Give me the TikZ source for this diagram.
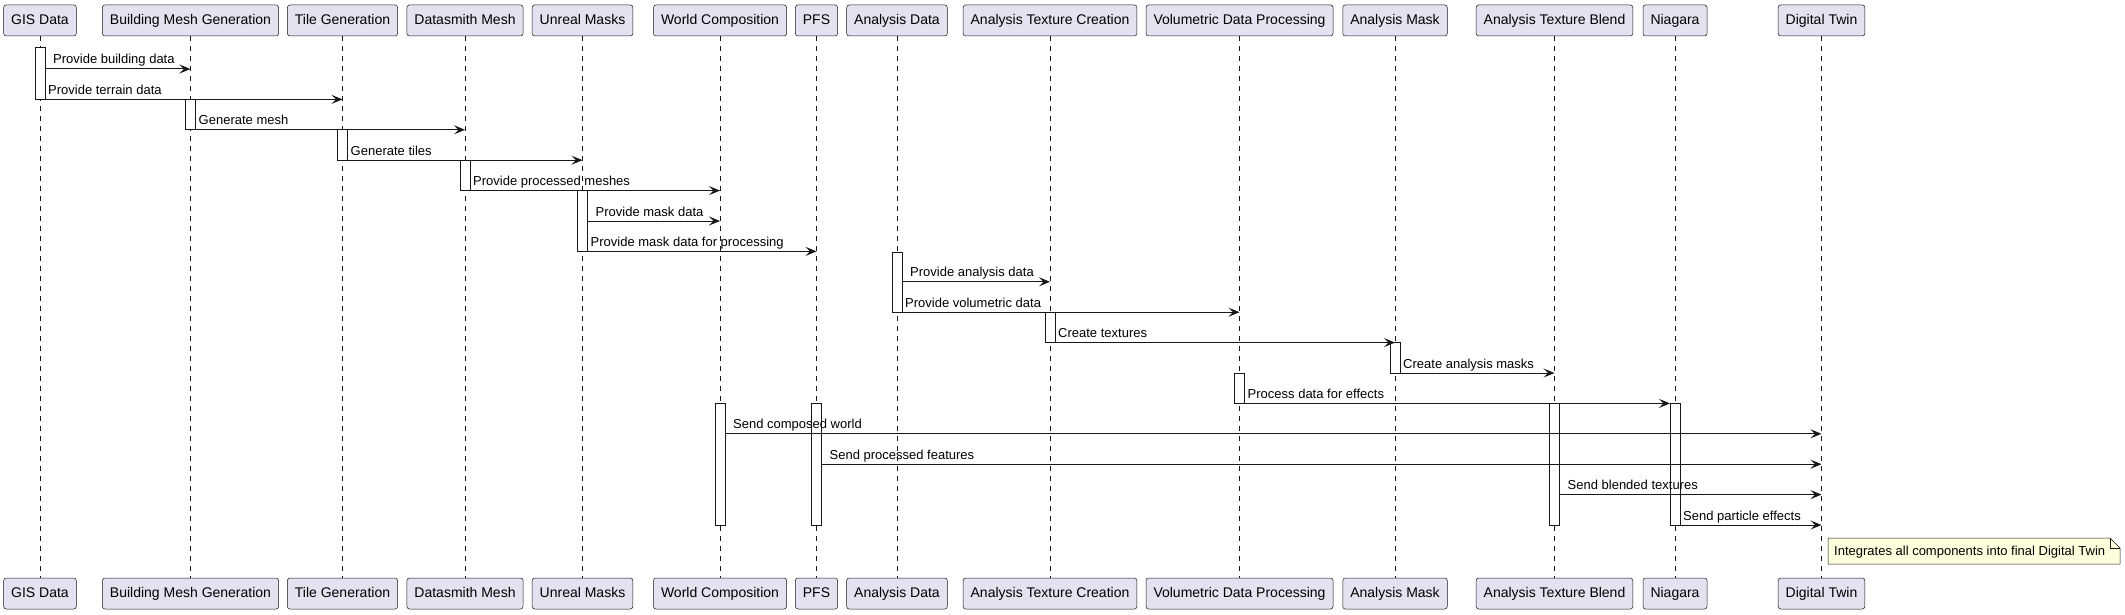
\documentclass[tikz,border=0pt]{standalone}
\usepackage{fontspec}
\setmainfont{Liberation Sans}
\usetikzlibrary{arrows.meta}
\definecolor{ln}{HTML}{181818}
\definecolor{pfill}{HTML}{E2E2F0}
\definecolor{nfill}{HTML}{FEFFDD}
\tikzset{
  part/.style={draw=ln, line width=0.5pt, fill=pfill, rounded corners=2.5pt,
    minimum height=31pt, inner xsep=7.5pt, inner ysep=0pt,
    text height=10pt, text depth=2pt, font=\fontsize{14}{16}\selectfont},
  life/.style={draw=ln, line width=0.5pt, dash pattern=on 5pt off 5pt},
  actbar/.style={draw=ln, fill=white, line width=1pt},
  msg/.style={draw=ln, line width=1pt, -{Stealth[length=11pt,width=9pt,inset=4.5pt]}},
  lbl/.style={anchor=base west, inner sep=0pt, font=\fontsize{13}{15}\selectfont},
  notebox/.style={draw=ln, line width=0.5pt, fill=nfill},
}
\begin{document}
\begin{tikzpicture}[x=1pt,y=-1pt]
\useasboundingbox (0,0) rectangle (2125,615);
% participants and lifelines
\foreach \n/\x/\t in {gis/40/GIS Data, bmg/190.5/Building Mesh Generation,
  tile/342.5/Tile Generation, ds/465/Datasmith Mesh, um/582.5/Unreal Masks,
  wc/720/World Composition, pfs/816.5/PFS, ad/897/Analysis Data,
  atc/1050/Analysis Texture Creation, vdp/1239.5/Volumetric Data Processing,
  am/1395/Analysis Mask, atb/1554.5/Analysis Texture Blend,
  nia/1675/Niagara, dt/1821.5/Digital Twin}{
  \node[part] (t-\n) at (\x,20.5) {\t};
  \node[part] (b-\n) at (\x,593.5) {\t};
  \draw[life] (t-\n.south) -- (b-\n.north);
}
% activation bars
\foreach \x/\a/\b in {40/48/99.4, 190.5/99.4/129.8, 342.5/129.8/160.2,
  465/160.2/190.6, 582.5/190.6/251.4, 897/252.3/312.2, 1050/312.2/342.6,
  1395/342.6/373, 1239.5/373.3/403.4, 720/403.4/525, 816.5/403.4/525,
  1554.5/403.4/525, 1675/403.4/525}{
  \draw[actbar] (\x-5,\a) rectangle (\x+5,\b);
}
% messages
\foreach \i/\s/\e/\y/\o/\t in {
  1/40/190.5/69/13/Provide building data,
  2/40/342.5/99.4/8/Provide terrain data,
  3/190.5/465/129.8/8/Generate mesh,
  4/342.5/582.5/160.2/8/Generate tiles,
  5/465/720/190.6/8/Provide processed meshes,
  6/582.5/720/221/13/Provide mask data,
  7/582.5/816.5/251.4/8/Provide mask data for processing,
  8/897/1050/281.8/13/Provide analysis data,
  9/897/1239.5/312.2/8/Provide volumetric data,
  10/1050/1395/342.6/8/Create textures,
  11/1395/1554.5/373/8/Create analysis masks,
  12/1239.5/1670/403.4/8/Process data for effects,
  13/720/1821.5/433.8/13/Send composed world,
  14/816.5/1821.5/464.2/13/Send processed features,
  15/1554.5/1821.5/494.6/13/Send blended textures,
  16/1675/1821.5/525/8/Send particle effects}{
  \coordinate (m\i-s) at (\s+5,\y);
  \coordinate (m\i-e) at (\e,\y);
  \draw[msg] (m\i-s) -- (m\i-e);
  \node[lbl] (l\i) at (\s+\o,\y-5) {\t};
}
% note
\draw[notebox] (1828,538) -- (2110,538) -- (2120,548) -- (2120,564) -- (1828,564) -- cycle;
\draw[draw=ln, line width=0.5pt] (2110,538) -- (2110,548) -- (2120,548);
\node[anchor=west, inner sep=0pt, text height=9.3pt, text depth=0pt,
  font=\fontsize{13}{15}\selectfont] (note) at (1834,551) {Integrates all components into final Digital Twin};
\end{tikzpicture}
\end{document}
